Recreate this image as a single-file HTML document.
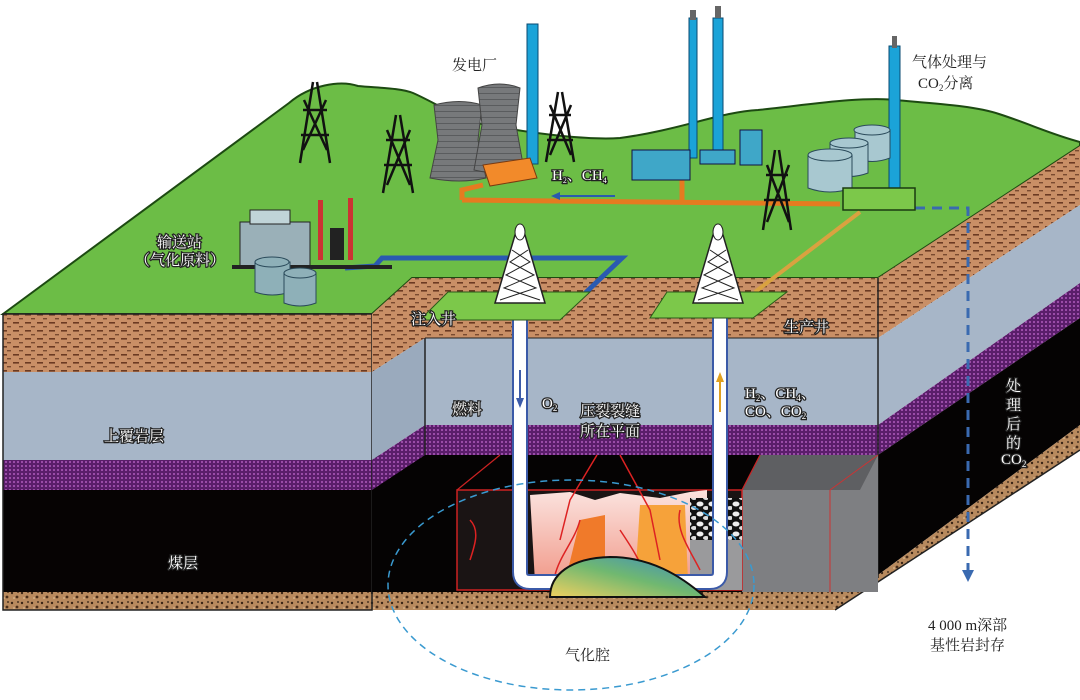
<!DOCTYPE html>
<html><head><meta charset="utf-8"><style>
html,body{margin:0;padding:0;background:#fff;}
svg{display:block;}
.w{font-family:"Liberation Serif","Noto Serif CJK SC",serif;fill:#fff;stroke:#222;stroke-width:2.5;paint-order:stroke;font-size:15px;}
.b{font-family:"Liberation Serif","Noto Serif CJK SC",serif;fill:#222;font-size:15px;}
</style></head><body>
<svg width="1080" height="700" viewBox="0 0 1080 700" xmlns="http://www.w3.org/2000/svg">
<defs>
<pattern id="brick" width="12" height="8" patternUnits="userSpaceOnUse">
<rect width="12" height="8" fill="#c98f66"/>
<rect x="1" y="2" width="6" height="1.6" fill="#6b3a22"/><rect x="7" y="6" width="4" height="1.4" fill="#7a4a30"/>
</pattern>
<pattern id="purp" width="4" height="4" patternUnits="userSpaceOnUse">
<rect width="4" height="4" fill="#5a1e6a"/><rect x="1" y="1" width="2" height="2" fill="#9a4ca8"/>
</pattern>
<pattern id="speck" width="10" height="10" patternUnits="userSpaceOnUse">
<rect width="10" height="10" fill="#b88a5e"/><circle cx="2" cy="3" r="1.2" fill="#3a2516"/><circle cx="7" cy="7" r="1.4" fill="#4a2e1a"/><circle cx="8" cy="2" r="0.9" fill="#2a1a10"/><circle cx="4" cy="8" r="0.8" fill="#e8c8a0"/>
</pattern>
<pattern id="rocks" width="12" height="10" patternUnits="userSpaceOnUse">
<rect width="12" height="10" fill="#111"/><ellipse cx="4" cy="4" rx="3.5" ry="2.5" fill="#eee"/><ellipse cx="10" cy="8" rx="3" ry="2" fill="#ddd"/>
</pattern>
<linearGradient id="dome" x1="0" y1="1" x2="1" y2="0"><stop offset="0" stop-color="#f0d060"/><stop offset="0.5" stop-color="#70b870"/><stop offset="1" stop-color="#3a8ac8"/></linearGradient>
<linearGradient id="flame" x1="0" y1="0" x2="0" y2="1"><stop offset="0" stop-color="#fbe3df"/><stop offset="1" stop-color="#f19a8a"/></linearGradient>
<pattern id="tower" width="6" height="6" patternUnits="userSpaceOnUse"><rect width="6" height="6" fill="#77797b"/><rect y="3" width="6" height="1" fill="#5a5c5e"/></pattern>
</defs>

<path d="M3,314 L289,103 C310,85 340,80 358,86 C380,88 400,88 413,93 C440,105 460,120 482,124 C540,135 590,140 620,138 C680,130 720,112 758,110 C800,106 860,96 895,100 C940,104 975,106 999,114 C1030,124 1050,134 1080,142 L1080,146 L878,278 L412,278 L372,314 Z" fill="#6cbd46" stroke="#1d4a12" stroke-width="2"/>

<rect x="3" y="314" width="369" height="58" fill="url(#brick)"/>
<rect x="3" y="372" width="369" height="88" fill="#a7b6c8"/>
<rect x="3" y="460" width="369" height="30" fill="url(#purp)"/>
<rect x="3" y="490" width="369" height="102" fill="#060303"/>
<rect x="3" y="592" width="832" height="18" fill="url(#speck)"/>
<rect x="3" y="314" width="369" height="296" fill="none" stroke="#222" stroke-width="1.5"/>

<rect x="412" y="278" width="466" height="60" fill="url(#brick)"/>
<rect x="425" y="338" width="453" height="87" fill="#a7b6c8"/>
<rect x="425" y="425" width="453" height="30" fill="url(#purp)"/>
<rect x="372" y="455" width="506" height="137" fill="#050303"/>
<polygon points="372,314 412,278 425,278 425,338 372,372" fill="url(#brick)"/>
<polygon points="372,372 425,338 425,425 372,460" fill="#9aaabd"/>
<polygon points="372,460 425,425 425,455 372,490" fill="url(#purp)"/>
<line x1="425" y1="338" x2="425" y2="455" stroke="#222" stroke-width="1.5"/>
<line x1="425" y1="338" x2="878" y2="338" stroke="#222" stroke-width="1"/>

<polygon points="878,278 1080,146 1080,205 878,338" fill="url(#brick)"/>
<polygon points="878,338 1080,205 1080,283 878,425" fill="#a7b6c8"/>
<polygon points="878,425 1080,283 1080,318 878,455" fill="url(#purp)"/>
<polygon points="878,455 1080,318 1080,425 878,575" fill="#050303"/>
<polygon points="835,592 878,575 1080,425 1080,450 835,610" fill="url(#speck)"/>
<line x1="878" y1="278" x2="878" y2="578" stroke="#222" stroke-width="1.5"/>
<line x1="835" y1="610" x2="1080" y2="450" stroke="#222" stroke-width="1.5"/>

<polygon points="742,490 760,455 878,455 878,592 742,592" fill="#7e7f82"/>
<polygon points="742,490 760,455 878,455 860,490" fill="#5e5f62"/>
<line x1="830" y1="490" x2="830" y2="592" stroke="#c33" stroke-width="1"/>
<line x1="830" y1="490" x2="878" y2="455" stroke="#c33" stroke-width="1"/>
<rect x="457" y="490" width="285" height="100" fill="#1a1414" stroke="#c22" stroke-width="1.5"/>
<line x1="457" y1="490" x2="500" y2="455" stroke="#c22" stroke-width="1.2"/>
<line x1="742" y1="490" x2="760" y2="455" stroke="#c22" stroke-width="1.2"/>
<polygon points="530,495 570,492 595,500 620,493 660,498 690,492 707,490 707,580 535,582" fill="url(#flame)"/>
<polygon points="580,520 605,515 605,582 565,582" fill="#f07a2a"/>
<polygon points="640,505 685,505 688,582 635,582" fill="#f6a23a"/>
<rect x="690" y="498" width="52" height="42" fill="url(#rocks)"/>
<rect x="690" y="540" width="52" height="50" fill="#9a9a9c"/>
<g stroke="#d22" stroke-width="1.5" fill="none">
<path d="M597,455 L570,500 L560,540 M620,455 L650,510 L660,560 M580,520 C575,540 560,555 555,575 M620,530 C630,545 640,560 645,575 M470,520 C480,530 475,545 470,560 M680,510 C675,530 690,550 700,570"/>
</g>
<rect x="457" y="592" width="378" height="18" fill="url(#speck)"/>

<path d="M520,315 L520,572 Q520,582 530,582 L710,582 Q720,582 720,572 L720,315" fill="none" stroke="#3b5aa8" stroke-width="16"/>
<path d="M520,315 L520,572 Q520,582 530,582 L710,582 Q720,582 720,572 L720,315" fill="none" stroke="#fff" stroke-width="12"/>
<line x1="520" y1="370" x2="520" y2="400" stroke="#3b5aa8" stroke-width="2"/>
<polygon points="516,398 524,398 520,408" fill="#3b5aa8"/>
<line x1="720" y1="380" x2="720" y2="412" stroke="#e0a020" stroke-width="2"/>
<polygon points="716,382 724,382 720,372" fill="#e0a020"/>
<path d="M550,597 C550,575 570,558 610,557 C650,557 680,575 705,597 Z" fill="url(#dome)" stroke="#111" stroke-width="2"/>

<ellipse cx="571" cy="585" rx="183" ry="105" fill="none" stroke="#3a9ad0" stroke-width="1.5" stroke-dasharray="7,5"/>

<path d="M915,208 L968,208 L968,572" fill="none" stroke="#3a6ab0" stroke-width="3" stroke-dasharray="10,7"/>
<polygon points="962,570 974,570 968,582" fill="#3a6ab0"/>

<path d="M462,200 L840,204" stroke="#e57b20" stroke-width="5" fill="none"/>
<path d="M462,200 L462,190 L483,185" stroke="#e57b20" stroke-width="5" fill="none"/>
<path d="M682,162 L682,202" stroke="#e57b20" stroke-width="5"/>
<path d="M860,212 L755,292" stroke="#d9a240" stroke-width="4"/>
<path d="M345,268 L375,266 L382,258 L622,258 L580,298" stroke="#2a5ab0" stroke-width="5" fill="none"/>
<line x1="615" y1="196" x2="560" y2="196" stroke="#2a5ab0" stroke-width="2"/>
<polygon points="560,192 560,200 551,196" fill="#2a5ab0"/>

<polygon points="420,320 448,292 590,292 560,320" fill="#7cc84a" stroke="#2a5a1a" stroke-width="1"/>
<polygon points="650,318 667,292 787,292 753,318" fill="#7cc84a" stroke="#2a5a1a" stroke-width="1"/>
<g fill="#fff" stroke="#222" stroke-width="1.5">
<polygon points="515,235 525,235 545,303 495,303"/>
<polygon points="713,235 723,235 743,303 693,303"/>
</g>
<g stroke="#222" stroke-width="1" fill="none">
<path d="M512,250 L530,262 L506,275 L536,288 L500,300 M528,250 L510,262 L534,275 L504,288 L540,300"/>
<path d="M710,250 L728,262 L704,275 L734,288 L698,300 M726,250 L708,262 L732,275 L702,288 L738,300"/>
</g>
<ellipse cx="520" cy="232" rx="5" ry="8" fill="#fff" stroke="#222"/>
<ellipse cx="718" cy="232" rx="5" ry="8" fill="#fff" stroke="#222"/>

<g fill="none" stroke="#111" stroke-width="2.5">
<path d="M313,82 L300,163 M317,82 L330,163 M303,110 L327,110 M301,135 L329,135 M304,100 L327,150 M326,100 L303,150"/>
<path d="M396,115 L383,193 M400,115 L413,193 M386,140 L410,140 M384,165 L412,165 M387,130 L410,185 M410,130 L387,185"/>
<path d="M558,92 L546,162 M562,92 L574,162 M549,115 L571,115 M547,140 L573,140 M550,105 L571,155 M571,105 L550,155"/>
<path d="M775,150 L763,230 M779,150 L791,230 M766,175 L788,175 M764,200 L790,200 M767,165 L789,222 M789,165 L767,222"/>
</g>

<path d="M434,105 Q460,98 482,105 L478,140 L486,178 Q460,184 430,178 L438,140 Z" fill="url(#tower)" stroke="#444"/>
<path d="M478,88 Q500,80 520,88 L516,125 L524,170 Q500,176 474,170 L482,125 Z" fill="url(#tower)" stroke="#444"/>
<g fill="#1ba3d8" stroke="#0a4a70" stroke-width="1">
<rect x="527" y="24" width="11" height="140"/>
<rect x="689" y="18" width="8" height="140"/>
<rect x="713" y="18" width="10" height="142"/>
<rect x="889" y="46" width="11" height="145"/>
</g>
<g fill="#666"><rect x="690" y="10" width="6" height="10"/><rect x="715" y="6" width="6" height="12"/><rect x="892" y="36" width="5" height="12"/></g>
<polygon points="483,165 530,158 537,178 490,186" fill="#f28a2a" stroke="#7a3a10"/>
<rect x="632" y="150" width="58" height="30" fill="#3fa7c8" stroke="#114"/>
<rect x="700" y="150" width="35" height="14" fill="#3fa7c8" stroke="#114"/>
<rect x="740" y="130" width="22" height="35" fill="#3fa7c8" stroke="#114"/>
<g fill="#a8c8d0" stroke="#2a4a5a">
<path d="M855,130 L855,158 Q872,165 890,158 L890,130 Z"/><ellipse cx="872" cy="130" rx="18" ry="5"/>
<path d="M830,143 L830,173 Q850,180 868,173 L868,143 Z"/><ellipse cx="849" cy="143" rx="19" ry="5"/>
<path d="M808,155 L808,188 Q830,196 852,188 L852,155 Z"/><ellipse cx="830" cy="155" rx="22" ry="6"/>
</g>
<rect x="843" y="188" width="72" height="22" fill="#7cc84a" stroke="#1a3a10" stroke-width="1.5"/>
<rect x="240" y="222" width="70" height="45" fill="#9ab0b8" stroke="#222"/>
<rect x="250" y="210" width="40" height="14" fill="#c0d4d8" stroke="#222"/>
<rect x="318" y="200" width="5" height="60" fill="#c33"/><rect x="348" y="198" width="5" height="62" fill="#c33"/>
<rect x="330" y="228" width="14" height="32" fill="#222"/>
<rect x="232" y="265" width="160" height="4" fill="#222"/>
<g fill="#8eb0b8" stroke="#2a4a5a">
<path d="M255,262 L255,292 Q272,298 290,292 L290,262 Z"/><ellipse cx="272" cy="262" rx="17" ry="5"/>
<path d="M284,273 L284,303 Q300,309 316,303 L316,273 Z"/><ellipse cx="300" cy="273" rx="16" ry="5"/>
</g>

<text class="b" x="452" y="70">发电厂</text>
<text class="b" x="912" y="67">气体处理与</text>
<text class="b" x="918" y="88">CO<tspan font-size="9" dy="3">2</tspan><tspan dy="-3">分离</tspan></text>
<text class="w" x="157" y="247">输送站</text>
<text class="w" x="135" y="265">（气化原料）</text>
<text class="w" x="411" y="324" font-size="16">注入井</text>
<text class="w" x="784" y="332" font-size="16">生产井</text>
<text class="w" x="452" y="414">燃料</text>
<text class="w" x="542" y="408">O<tspan font-size="9" dy="3">2</tspan></text>
<text class="w" x="580" y="416" font-size="16">压裂裂缝</text>
<text class="w" x="580" y="436" font-size="16">所在平面</text>
<text class="w" x="745" y="398">H<tspan font-size="9" dy="3">2</tspan><tspan dy="-3">、CH</tspan><tspan font-size="9" dy="3">4</tspan><tspan dy="-3">、</tspan></text>
<text class="w" x="745" y="416">CO、CO<tspan font-size="9" dy="3">2</tspan></text>
<text class="w" x="104" y="441">上覆岩层</text>
<text class="w" x="168" y="568">煤层</text>
<text class="w" x="1006" y="391">处</text>
<text class="w" x="1006" y="410">理</text>
<text class="w" x="1006" y="429">后</text>
<text class="w" x="1006" y="448">的</text>
<text class="w" x="1001" y="464">CO<tspan font-size="9" dy="3">2</tspan></text>
<text class="w" x="552" y="180" font-size="14">H<tspan font-size="8" dy="3">2</tspan><tspan dy="-3">、CH</tspan><tspan font-size="8" dy="3">4</tspan></text>
<text class="b" x="565" y="660">气化腔</text>
<text class="b" x="928" y="630">4 000 m深部</text>
<text class="b" x="930" y="650">基性岩封存</text>
</svg>
</body></html>
